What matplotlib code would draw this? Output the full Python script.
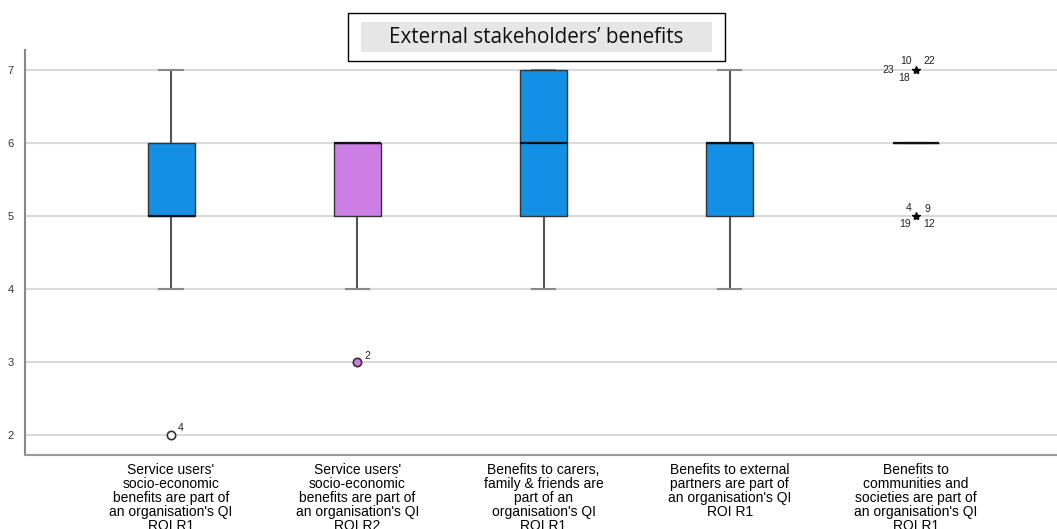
import matplotlib.pyplot as plt
from matplotlib.patches import Rectangle

# boxplot summary per item (Likert 1-7)
categories = [
    "Service users'\nsocio-economic\nbenefits are part of\nan organisation's QI\nROI R1",
    "Service users'\nsocio-economic\nbenefits are part of\nan organisation's QI\nROI R2",
    "Benefits to carers,\nfamily & friends are\npart of an\norganisation's QI\nROI R1",
    "Benefits to external\npartners are part of\nan organisation's QI\nROI R1",
    "Benefits to\ncommunities and\nsocieties are part of\nan organisation's QI\nROI R1",
]
medians = [5, 6, 6, 6, 6]
q1 = [5, 5, 5, 5, 6]
q3 = [6, 6, 7, 6, 6]
whisk_lo = [4, 4, 4, 4, 6]
whisk_hi = [7, 6, 7, 7, 6]
box_colors = ["#138fe6", "#cc7ee4", "#138fe6", "#138fe6", "#138fe6"]

# outliers: (item index, value, marker, face colour, [(case id, dx px, dy px), ...])
outliers = [
    (0, 2, "o", "white", [("4", 10, 7)]),
    (1, 3, "o", "#cc7ee4", [("2", 10, 6)]),
    (4, 7, "*", "black", [("10", -10, 9), ("22", 13, 9), ("23", -28, 0), ("18", -12, -8)]),
    (4, 5, "*", "black", [("4", -7, 8), ("9", 11, 7), ("19", -11, -8), ("12", 13, -8)]),
]
yticks = [2, 3, 4, 5, 6, 7]
title = "External stakeholders\u2019 benefits"

plt.rcParams['font.family'] = ['Liberation Sans', 'DejaVu Sans']

fig = plt.figure(figsize=(10.57, 5.29), dpi=100)
ax = fig.add_axes([0.0237, 0.140, 0.9763, 0.7655])

stats = []
for i in range(len(categories)):
    stats.append(dict(med=medians[i], q1=q1[i], q3=q3[i],
                      whislo=whisk_lo[i], whishi=whisk_hi[i], fliers=[]))

bp = ax.bxp(stats, positions=range(len(categories)), widths=0.252,
            patch_artist=True, showfliers=False, capwidths=0.125,
            boxprops=dict(edgecolor="#333333", linewidth=1.0),
            medianprops=dict(color="#111111", linewidth=1.6),
            whiskerprops=dict(color="#555555", linewidth=1.5),
            capprops=dict(color="#888888", linewidth=1.5))
for patch, c in zip(bp['boxes'], box_colors):
    patch.set_facecolor(c)
    patch.set_zorder(3)
for m in bp['medians']:
    m.set_zorder(4)

for idx, val, mk, fc, labels in outliers:
    if mk == "o":
        ax.plot(idx, val, marker="o", ms=6, mfc=fc, mec="#333333", mew=1.2,
                zorder=5, clip_on=False)
    else:
        ax.plot(idx, val, marker="*", ms=6, color="black", zorder=5)
    for txt, dx, dy in labels:
        ax.annotate(txt, (idx, val), xytext=(dx, dy), textcoords="offset pixels",
                    ha="center", va="center", fontsize=7.5, color="#222222")

ax.set_xlim(-0.784, 4.757)
ax.set_ylim(1.726, 7.274)
ax.set_yticks(yticks)
ax.set_xticks(range(len(categories)))
ax.set_xticklabels(categories, fontsize=10, linespacing=1.0, va="top")
ax.tick_params(axis="x", length=0, pad=6)
ax.tick_params(axis="y", length=0, pad=8, labelsize=8, labelcolor="#333333")
ax.grid(axis="y", color="#d9d9d9", linewidth=1.5, zorder=0)
ax.set_axisbelow(True)
for s in ["top", "right"]:
    ax.spines[s].set_visible(False)
ax.spines["left"].set_color("#888888")
ax.spines["bottom"].set_color("#999999")
ax.spines["left"].set_linewidth(1.5)
ax.spines["bottom"].set_linewidth(1.5)

# framed title with grey band
fig.add_artist(Rectangle((0.3292, 0.8847), 0.3567, 0.0907, transform=fig.transFigure,
                         facecolor="white", edgecolor="black", linewidth=1.0, zorder=5))
fig.add_artist(Rectangle((0.3415, 0.9017), 0.3321, 0.0567, transform=fig.transFigure,
                         facecolor="#e6e6e6", edgecolor="none", zorder=6))
fig.text(0.5071, 0.930, title, ha="center", va="center", fontsize=14.9,
         family=["Open Sans", "DejaVu Sans"], color="#111111", zorder=7)

fig.savefig("out.png", dpi=100)
